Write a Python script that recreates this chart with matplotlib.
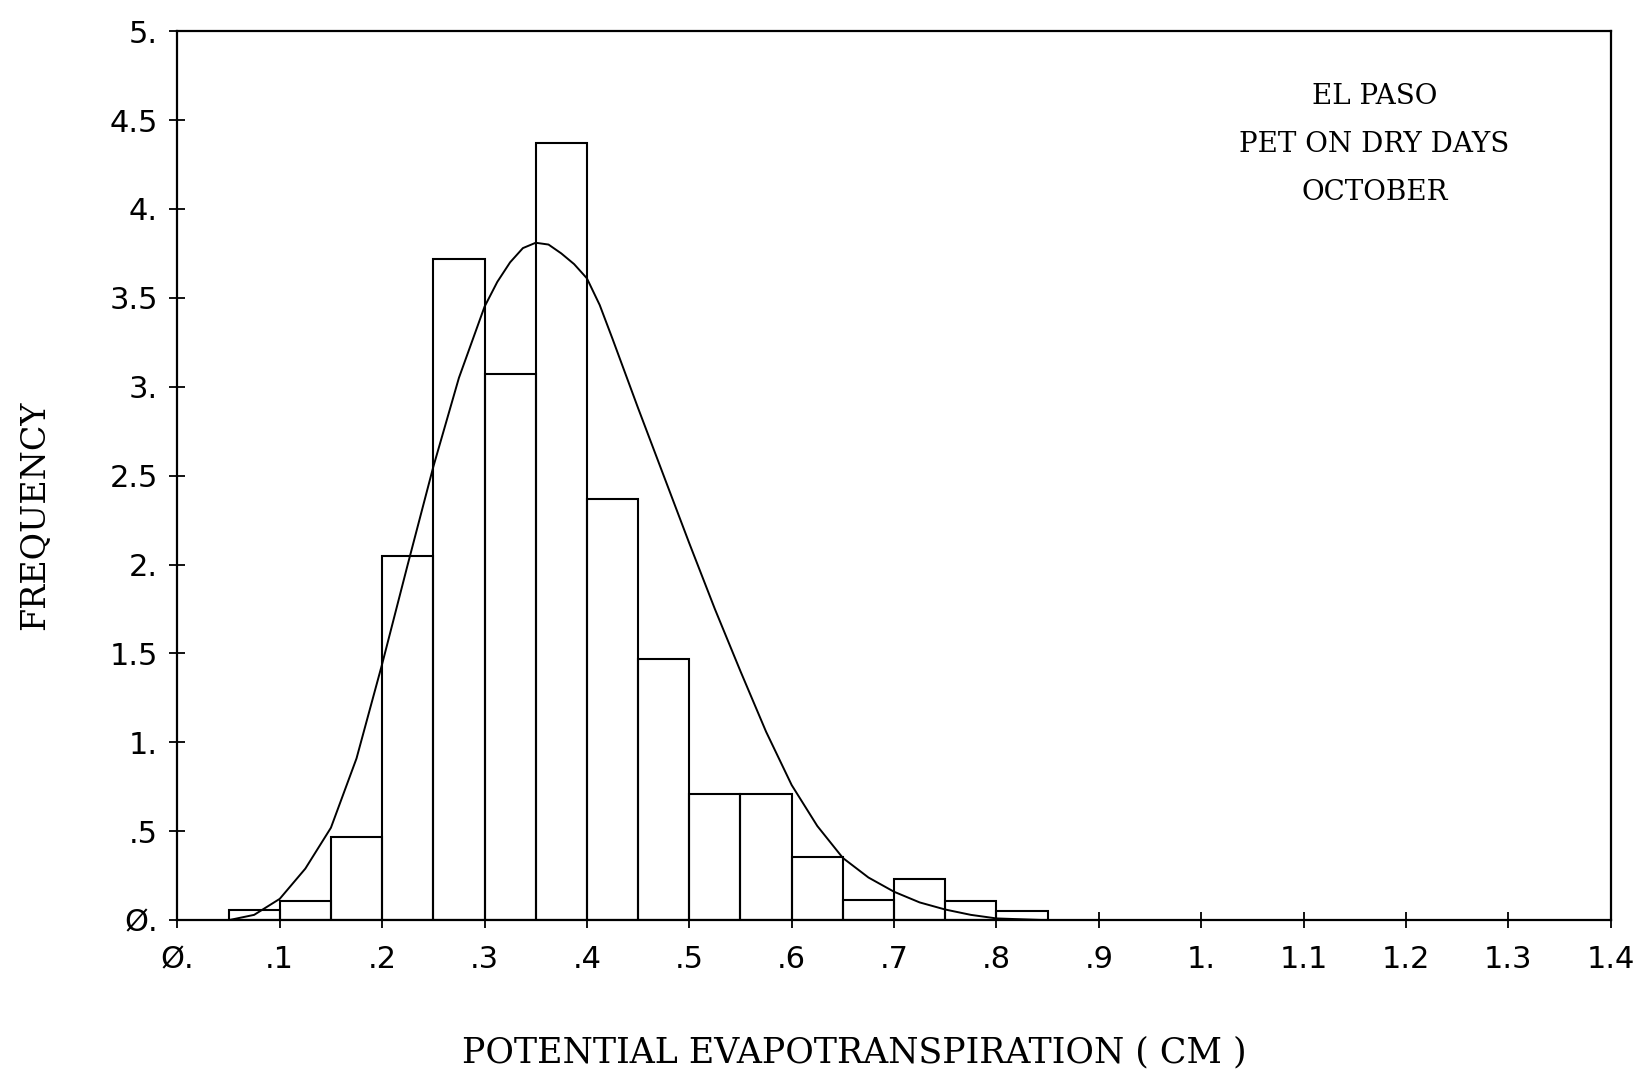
import matplotlib.pyplot as plt

# histogram bins (left edges, width .05) and bar heights
bin_left = [0.05, 0.10, 0.15, 0.20, 0.25, 0.30, 0.35, 0.40, 0.45,
            0.50, 0.55, 0.60, 0.65, 0.70, 0.75, 0.80]
freq = [0.055, 0.11, 0.47, 2.05, 3.72, 3.07, 4.37, 2.37, 1.47,
        0.71, 0.71, 0.355, 0.115, 0.23, 0.11, 0.054]
bin_width = 0.05

# fitted curve, points
curve_x = [0.05, 0.075, 0.10, 0.125, 0.15, 0.175, 0.20, 0.225, 0.25, 0.275,
           0.30, 0.3125, 0.325, 0.3375, 0.35, 0.3625, 0.375, 0.3875, 0.40,
           0.4125, 0.425, 0.45, 0.475, 0.50, 0.525, 0.55, 0.575, 0.60, 0.625,
           0.65, 0.675, 0.70, 0.725, 0.75, 0.775, 0.80, 0.85]
curve_y = [0.0, 0.03, 0.12, 0.29, 0.52, 0.91, 1.44, 2.0, 2.55, 3.05,
           3.45, 3.59, 3.70, 3.78, 3.81, 3.80, 3.75, 3.69, 3.61,
           3.46, 3.27, 2.88, 2.50, 2.12, 1.75, 1.40, 1.06, 0.76, 0.53,
           0.35, 0.24, 0.16, 0.10, 0.06, 0.03, 0.01, 0.0]

xticks = [0.0, 0.1, 0.2, 0.3, 0.4, 0.5, 0.6, 0.7, 0.8, 0.9, 1.0, 1.1, 1.2, 1.3, 1.4]
xlabels = ["Ø.", ".1", ".2", ".3", ".4", ".5", ".6", ".7", ".8", ".9",
           "1.", "1.1", "1.2", "1.3", "1.4"]
yticks = [0, 0.5, 1, 1.5, 2, 2.5, 3, 3.5, 4, 4.5, 5]
ylabels = ["Ø.", ".5", "1.", "1.5", "2.", "2.5", "3.", "3.5", "4.", "4.5", "5."]

note_lines = ["EL PASO", "PET ON DRY DAYS", "OCTOBER"]

tick_font = ["DejaVu Sans"]
label_font = ["DejaVu Serif"]

fig = plt.figure(figsize=(16.42, 10.75), dpi=100)
ax = fig.add_axes([0.108, 0.144, 0.873, 0.827])

ax.bar(bin_left, freq, width=bin_width, align="edge", fill=False,
       edgecolor="black", linewidth=1.5)
ax.plot(curve_x, curve_y, color="black", linewidth=1.4,
        solid_joinstyle="round")

ax.set_xlim(0, 1.4)
ax.set_ylim(0, 5)
ax.set_xticks(xticks)
ax.set_xticklabels(xlabels, family=tick_font, fontsize=22)
ax.set_yticks(yticks)
ax.set_yticklabels(ylabels, family=tick_font, fontsize=22)
ax.tick_params(axis="both", direction="inout", length=12, width=1.3)
ax.tick_params(axis="x", pad=12)
ax.tick_params(axis="y", pad=8)
for s in ax.spines.values():
    s.set_linewidth(1.6)

# axis titles placed where they sit in the original
fig.text(0.52, 0.021, "POTENTIAL EVAPOTRANSPIRATION ( CM )", family=label_font,
         fontsize=25, ha="center", va="center")
fig.text(0.021, 0.521, "FREQUENCY", family=label_font, fontsize=24,
         rotation=90, ha="center", va="center")

for i, line in enumerate(note_lines):
    ax.text(0.835, 0.926 - i * 0.054, line, transform=ax.transAxes,
            ha="center", va="center", family=label_font, fontsize=20)

fig.savefig("out.png", dpi=100)
